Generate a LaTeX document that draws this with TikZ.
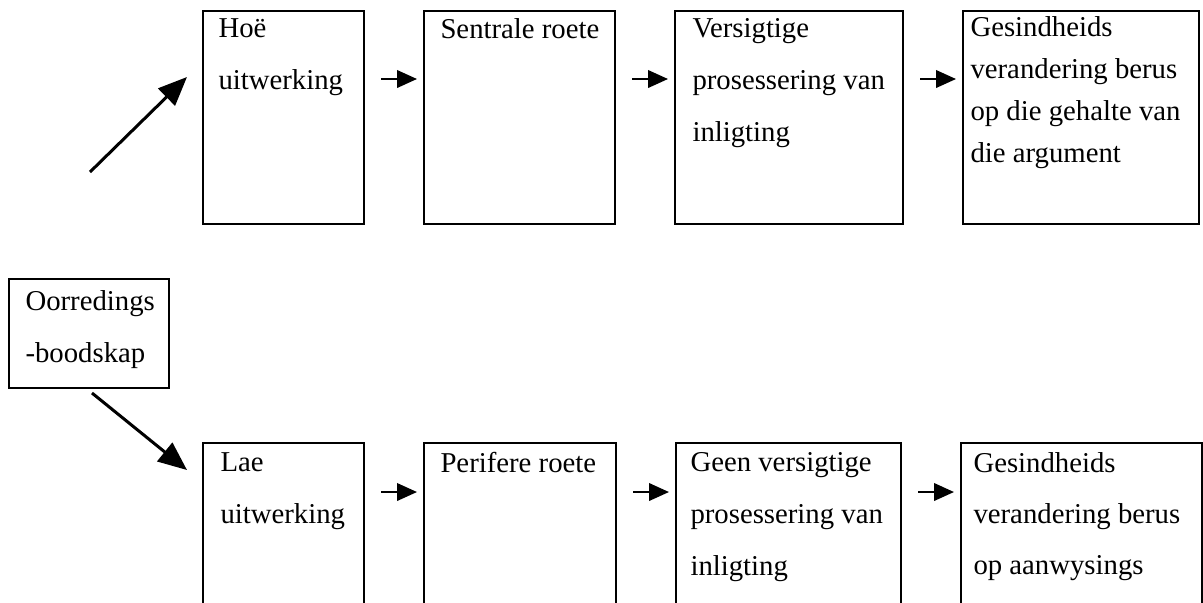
\documentclass[tikz,border=0pt]{standalone}
\usepackage{fontspec}
\setmainfont{Liberation Serif}
\usetikzlibrary{arrows.meta}

\begin{document}
\begin{tikzpicture}[x=0.4pt, y=-0.4pt,
    box/.style={draw, line width=0.8pt, anchor=north west, inner sep=0pt},
    txt/.style={anchor=north west, align=left, inner sep=0pt, font=\fontsize{11.5}{20.8}\selectfont},
    flow/.style={-{Triangle[length=8pt, width=7pt]}, line width=0.9pt, shorten <=6.4pt, shorten >=2.4pt},
    diag/.style={-{Triangle[length=11.5pt, width=9.5pt]}, line width=1.2pt}]

    \useasboundingbox (0,0) rectangle (1203,602);
    \clip (0,0) rectangle (1203,602);

    % message
    \node[box, minimum width=64pt, minimum height=43.6pt] (oor) at (8,278) {};
    \node[txt] (oortxt) at ([shift={(17,12)}]oor.north west) {Oorredings\\-boodskap};

    % top row
    \node[box, minimum width=64.4pt, minimum height=85.2pt] (t1) at (202,10) {};
    \node[box, minimum width=76.4pt, minimum height=85.2pt] (t2) at (423,10) {};
    \node[box, minimum width=91.2pt, minimum height=85.2pt] (t3) at (674,10) {};
    \node[box, minimum width=94.4pt, minimum height=85.2pt] (t4) at (962,10) {};
    \node[txt] (t1txt) at ([shift={(16,8)}]t1.north west) {Hoë\\uitwerking};
    \node[txt] (t2txt) at ([shift={(17,8)}]t2.north west) {Sentrale roete};
    \node[txt] (t3txt) at ([shift={(18,8)}]t3.north west) {Versigtige\\prosessering van\\inligting};
    \node[txt, font=\fontsize{11.5}{16.8}\selectfont] (t4txt) at ([shift={(8,6)}]t4.north west)
        {Gesindheids\\verandering berus\\op die gehalte van\\die argument};

    % bottom row
    \node[box, minimum width=64.4pt, minimum height=87.2pt] (b1) at (202,442) {};
    \node[box, minimum width=76.8pt, minimum height=87.2pt] (b2) at (423,442) {};
    \node[box, minimum width=90pt, minimum height=87.2pt] (b3) at (675,442) {};
    \node[box, minimum width=96.4pt, minimum height=87.2pt] (b4) at (960,442) {};
    \node[txt] (b1txt) at ([shift={(18,10)}]b1.north west) {Lae\\uitwerking};
    \node[txt] (b2txt) at ([shift={(17,10)}]b2.north west) {Perifere roete};
    \node[txt] (b3txt) at ([shift={(15,10)}]b3.north west) {Geen versigtige\\prosessering van\\inligting};
    \node[txt, font=\fontsize{11.5}{20.4}\selectfont] (b4txt) at ([shift={(13,10)}]b4.north west)
        {Gesindheids\\verandering berus\\op aanwysings};

    % arrow rows
    \coordinate (toprow) at (0,79);
    \coordinate (botrow) at (0,492);
    \draw[flow] (t1.east |- toprow) -- (t2.west |- toprow);
    \draw[flow] (t2.east |- toprow) -- (t3.west |- toprow);
    \draw[flow] (t3.east |- toprow) -- (t4.west |- toprow);
    \draw[flow] (b1.east |- botrow) -- (b2.west |- botrow);
    \draw[flow] (b2.east |- botrow) -- (b3.west |- botrow);
    \draw[flow] (b3.east |- botrow) -- (b4.west |- botrow);

    % split arrows
    \coordinate (hi) at (90,172);
    \coordinate (lo) at (92,393);
    \draw[diag] (hi) -- ([shift={(-15,67)}]t1.north west);
    \draw[diag] (lo) -- ([shift={(-15,28)}]b1.north west);
\end{tikzpicture}
\end{document}
